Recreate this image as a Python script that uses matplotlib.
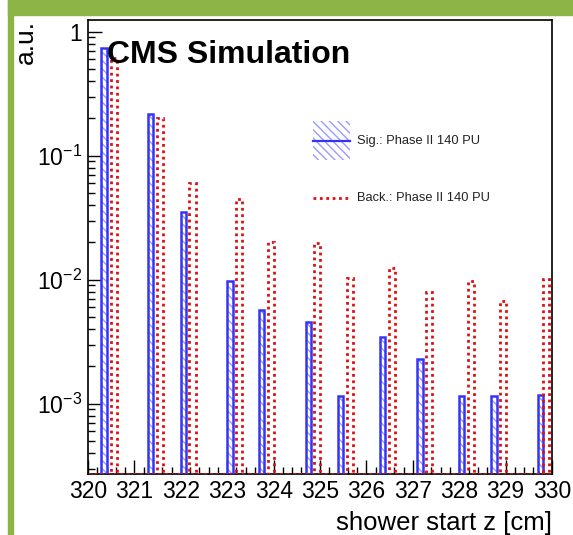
import numpy as np
import matplotlib.pyplot as plt
from matplotlib.patches import Patch, Rectangle
from matplotlib.lines import Line2D
from matplotlib.legend_handler import HandlerTuple, HandlerLine2D
from matplotlib.ticker import (FixedLocator, FixedFormatter, LogLocator,
                               MultipleLocator, NullFormatter)

plt.rcParams['font.family'] = ['Liberation Sans', 'DejaVu Sans']
plt.rcParams['mathtext.default'] = 'regular'
plt.rcParams['hatch.linewidth'] = 1.0

# shower start z of each layer bin (cm) and normalised fractions
sig_z = [320.345, 321.351, 322.054, 323.060, 323.744, 324.748,
         325.446, 326.351, 327.155, 328.054, 328.750, 329.756]
sig_frac = [0.735, 0.216, 0.035, 0.0098, 0.0057, 0.0046,
            0.00115, 0.00345, 0.00229, 0.00115, 0.00115, 0.00117]

bkg_z = [320.560, 321.552, 322.252, 323.254, 323.940, 324.942,
         325.651, 326.556, 327.353, 328.250, 328.948, 329.866]
bkg_frac = [0.61, 0.203, 0.060, 0.0448, 0.020, 0.0197,
            0.0104, 0.0125, 0.0080, 0.0098, 0.0067, 0.0101]

ytick_vals = [1e-3, 1e-2, 1e-1, 1]
ytick_labels = [r'$10^{-3}$', r'$10^{-2}$', r'$10^{-1}$', '1']

sig_label = 'Sig.: Phase II 140 PU'
bkg_label = 'Back.: Phase II 140 PU'

blue = '#3434f5'
light_blue = '#9a9aff'
red = '#dd1111'
green = '#8db446'


class CenteredLine(HandlerLine2D):
    # put the legend line in the middle of the (tall) handle box
    def create_artists(self, legend, orig_handle, xdescent, ydescent,
                       width, height, fontsize, trans):
        arts = super().create_artists(legend, orig_handle, xdescent, ydescent,
                                      width, height, fontsize, trans)
        for a in arts:
            a.set_ydata(np.asarray(a.get_ydata()) - ydescent / 2)
        return arts


fig = plt.figure(figsize=(5.73, 5.35), dpi=100)

# green slide frame (top band and left strip)
fig.patches.append(Rectangle((8 / 573, 1 - 15 / 535), 1, 15 / 535,
                             transform=fig.transFigure, color=green, zorder=0))
fig.patches.append(Rectangle((8 / 573, 0), 5 / 573, 1,
                             transform=fig.transFigure, color=green, zorder=0))

ax = fig.add_axes([0.1536, 0.1140, 0.8098, 0.8486])
ax.set_yscale('log')

# signal: hatched bars with solid blue outline
ax.bar(sig_z, sig_frac, width=0.115, color='white', edgecolor=light_blue,
       hatch='\\\\\\\\', linewidth=0, zorder=2)
ax.bar(sig_z, sig_frac, width=0.115, fill=False, edgecolor=blue,
       linewidth=1.8, zorder=3)

# background: dotted red outline
dots = (0, (1, 1.3))
ax.bar(bkg_z, bkg_frac, width=0.135, fill=False, edgecolor=red,
       linewidth=2.0, linestyle=dots, zorder=3)

ax.set_xlim(320, 330)
ax.set_ylim(2.71e-4, 1.243)
ax.axhline(2.71e-4, color=red, lw=2.0, ls=dots, zorder=3)

ax.yaxis.set_major_locator(FixedLocator(ytick_vals))
ax.yaxis.set_major_formatter(FixedFormatter(ytick_labels))
ax.yaxis.set_minor_locator(LogLocator(base=10, subs=np.arange(2, 10)))
ax.yaxis.set_minor_formatter(NullFormatter())
ax.xaxis.set_major_locator(MultipleLocator(1))
ax.xaxis.set_minor_locator(MultipleLocator(0.2))

ax.tick_params(which='both', direction='in', top=False, right=False,
               labelsize=16.5, pad=4)
ax.tick_params(which='major', length=10, width=1)
ax.tick_params(which='minor', length=5, width=1)
for s in ax.spines.values():
    s.set_linewidth(1.2)

ax.set_xlabel('shower start z [cm]', fontsize=18.5, loc='right', labelpad=6)
ax.set_ylabel('a.u.', fontsize=19, loc='top')
ax.yaxis.set_label_coords(-0.108, 1.0)

ax.text(0.041, 0.905, 'CMS Simulation', transform=ax.transAxes,
        fontsize=23, fontweight='bold', va='baseline', ha='left', zorder=5)

sig_handle = (Patch(facecolor='white', edgecolor=light_blue,
                    hatch='\\\\\\\\', linewidth=0),
              Line2D([], [], color=blue, lw=1.6))
bkg_handle = Line2D([], [], color=red, lw=2.0, ls=dots)
ax.legend([sig_handle, bkg_handle], [sig_label, bkg_label],
          handler_map={tuple: HandlerTuple(ndivide=1, pad=0),
                       Line2D: CenteredLine()},
          loc='upper left', bbox_to_anchor=(0.485, 0.7775), frameon=False,
          fontsize=9.3, borderpad=0, borderaxespad=0, handlelength=2.87,
          handleheight=4.27, labelspacing=1.39, handletextpad=0.55,
          labelcolor='#222222')

fig.savefig('out.png', dpi=100)
